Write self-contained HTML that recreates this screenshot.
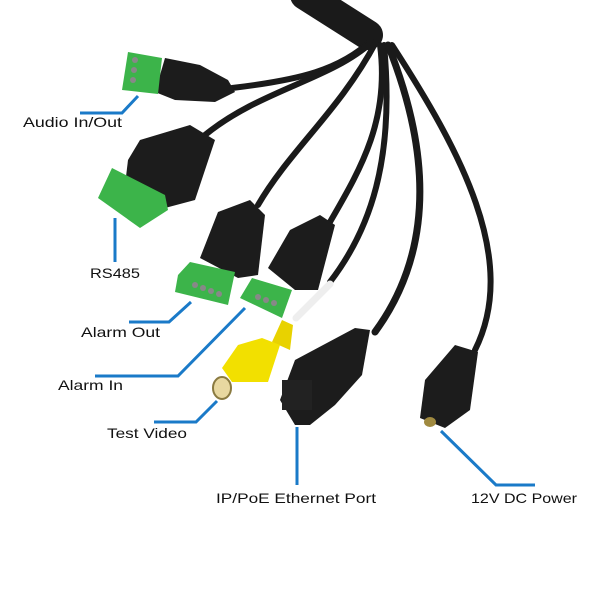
<!DOCTYPE html>
<html><head><style>body{margin:0;background:#fff}svg{display:block}</style></head>
<body>
<svg width="600" height="600" viewBox="0 0 600 600" xmlns="http://www.w3.org/2000/svg">
<rect width="600" height="600" fill="#fff"/>
<g fill="none" stroke="#1a1a1a" stroke-linecap="round">
<path d="M305 -5 L368 35" stroke-width="30"/>
<path d="M372 40 C340 70 300 80 232 88" stroke-width="6"/>
<path d="M372 42 C330 80 260 90 205 135" stroke-width="6"/>
<path d="M376 42 C340 110 290 150 258 205" stroke-width="6"/>
<path d="M380 45 C390 120 360 170 330 222" stroke-width="6"/>
<path d="M384 45 C395 160 370 230 330 282" stroke-width="6"/>
<path d="M388 45 C430 150 435 250 375 332" stroke-width="7"/>
<path d="M392 45 C460 150 520 260 475 350" stroke-width="6"/>
</g>
<path d="M330 284 L296 318" stroke="#eee" stroke-width="7" stroke-linecap="round"/>
<polygon points="165,58 200,65 228,80 235,92 215,102 175,100 155,92" fill="#1c1c1c"/>
<polygon points="128,52 162,58 158,94 122,90" fill="#3cb44a"/>
<circle cx="135" cy="60" r="3" fill="#888"/><circle cx="134" cy="70" r="3" fill="#888"/><circle cx="133" cy="80" r="3" fill="#888"/>
<polygon points="140,140 190,125 215,140 195,200 165,208 125,185 128,160" fill="#1c1c1c"/>
<polygon points="112,168 165,195 168,210 140,228 98,198" fill="#3cb44a"/>
<polygon points="218,212 250,200 265,215 258,275 238,278 200,258" fill="#1c1c1c"/>
<polygon points="190,262 235,272 228,305 175,292 178,275" fill="#3cb44a"/>
<circle cx="195" cy="285" r="3" fill="#888"/><circle cx="203" cy="288" r="3" fill="#888"/><circle cx="211" cy="291" r="3" fill="#888"/><circle cx="219" cy="294" r="3" fill="#888"/>
<polygon points="290,230 320,215 335,225 318,290 295,290 268,268" fill="#1c1c1c"/>
<polygon points="252,278 292,290 282,318 240,298" fill="#3cb44a"/>
<circle cx="258" cy="297" r="3" fill="#888"/><circle cx="266" cy="300" r="3" fill="#888"/><circle cx="274" cy="303" r="3" fill="#888"/>
<polygon points="282,320 293,325 290,350 272,342" fill="#e8d200"/>
<polygon points="262,338 280,345 268,382 232,382 222,368 238,345" fill="#f2e000"/>
<ellipse cx="222" cy="388" rx="9" ry="11" fill="#e8d8a0" stroke="#8a7a40" stroke-width="2"/>
<polygon points="355,328 370,330 362,375 335,405 310,425 295,425 280,400 295,360" fill="#1c1c1c"/>
<rect x="282" y="380" width="30" height="30" fill="#222"/>
<polygon points="455,345 478,352 470,410 445,428 420,418 425,380" fill="#1c1c1c"/>
<ellipse cx="430" cy="422" rx="6" ry="5" fill="#a08a40"/>
<g fill="none" stroke="#1a7ac8" stroke-width="3">
<polyline points="80,113 122,113 138,96"/>
<line x1="115" y1="218" x2="115" y2="262"/>
<polyline points="129,322 169,322 191,302"/>
<polyline points="95,376 178,376 245,308"/>
<polyline points="154,422 196,422 217,401"/>
<line x1="297" y1="427" x2="297" y2="485"/>
<polyline points="441,431 496,485 535,485"/>
</g>
<g font-family="Liberation Sans, sans-serif" font-size="14" fill="#111">
<text x="23" y="127" textLength="99" lengthAdjust="spacingAndGlyphs">Audio In/Out</text>
<text x="90" y="278" textLength="50" lengthAdjust="spacingAndGlyphs">RS485</text>
<text x="81" y="337" textLength="79" lengthAdjust="spacingAndGlyphs">Alarm Out</text>
<text x="58" y="390" textLength="65" lengthAdjust="spacingAndGlyphs">Alarm In</text>
<text x="107" y="438" textLength="80" lengthAdjust="spacingAndGlyphs">Test Video</text>
<text x="216" y="503" textLength="160" lengthAdjust="spacingAndGlyphs">IP/PoE Ethernet Port</text>
<text x="471" y="503" textLength="106" lengthAdjust="spacingAndGlyphs">12V DC Power</text>
</g>
</svg>
</body></html>
